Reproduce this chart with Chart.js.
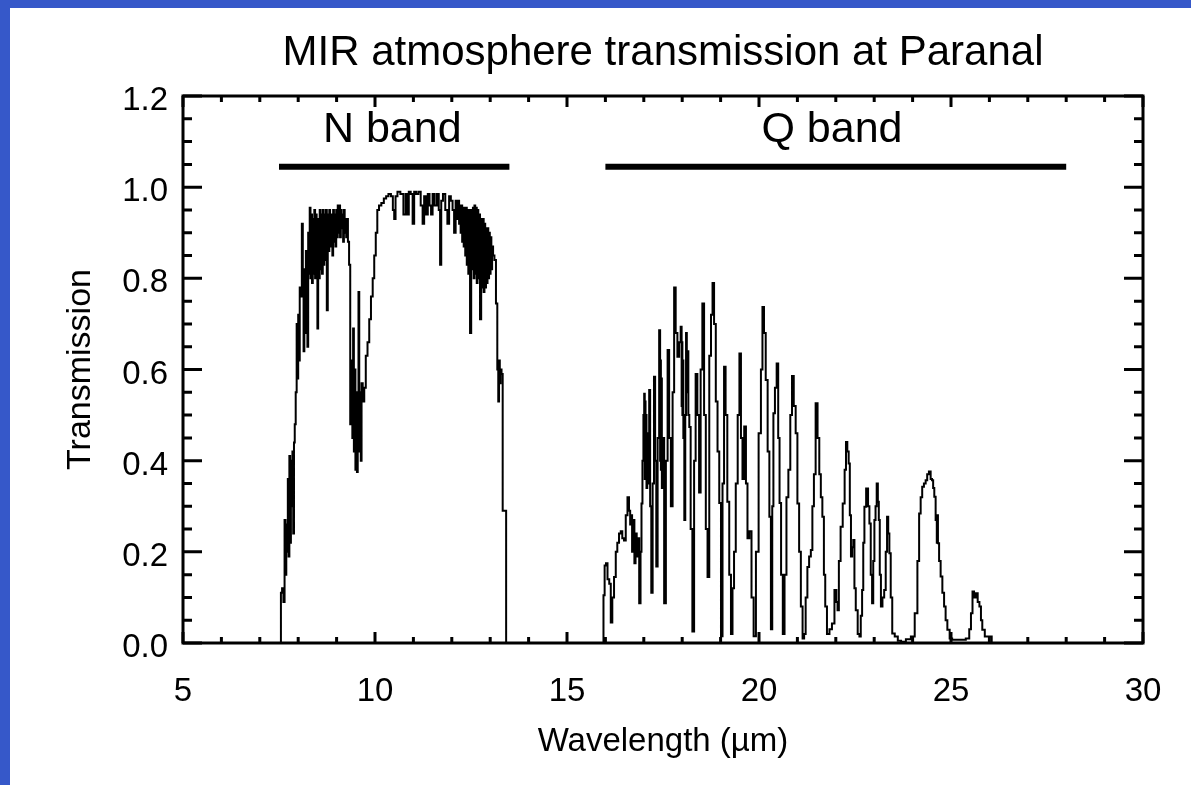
<!DOCTYPE html>
<html>
<head>
<meta charset="utf-8">
<script src="https://cdn.jsdelivr.net/npm/chart.js@4.4.1/dist/chart.umd.min.js"></script>
<style>
  html, body { margin: 0; padding: 0; }
  body { width: 1191px; height: 785px; background: #3658c9; position: relative; overflow: hidden; }
  #wrap { position: absolute; left: 10px; top: 8px; width: 1181px; height: 777px; background: #ffffff; }
  canvas { display: block; }
</style>
</head>
<body>
<div id="wrap"><canvas id="c" width="1181" height="777"></canvas></div>
<script>
// ---- data ----
const chartTitle = "MIR atmosphere transmission at Paranal";
const xTitle = "Wavelength (\u00b5m)";
const yTitle = "Transmission";
const xTicks = [5, 10, 15, 20, 25, 30];
const yTicks = [0.0, 0.2, 0.4, 0.6, 0.8, 1.0, 1.2];

// photometric bands: name, start, end (µm), level of the bar, label position
const bandNames = ["N band", "Q band"];
const bandStart = [7.5, 16.0];
const bandEnd = [13.5, 28.0];
const bandLevel = [1.045, 1.045];
const bandLabelX = [10.45, 21.9];
const bandLabelY = [1.125, 1.125];

// transmission spectrum [wavelength µm, transmission]
const nBand = [
  [7.50,0],[7.54,0],[7.56,0.11],[7.60,0.12],[7.63,0.09],[7.66,0.27],[7.68,0.15],[7.70,0.26],[7.72,0.20],[7.74,0.36],
  [7.76,0.19],[7.78,0.41],[7.80,0.22],[7.82,0.40],[7.84,0.30],[7.86,0.42],[7.88,0.24],[7.90,0.44],[7.92,0.48],[7.95,0.55],
  [7.97,0.70],[7.99,0.58],[8.01,0.72],[8.03,0.62],[8.05,0.78],[8.08,0.76],[8.11,0.92],[8.13,0.80],[8.15,0.64],[8.17,0.82],
  [8.19,0.68],[8.21,0.86],[8.23,0.80],[8.25,0.65],[8.27,0.90],[8.29,0.81],[8.31,0.955],[8.33,0.80],[8.35,0.94],[8.37,0.79],
  [8.39,0.93],[8.41,0.81],[8.43,0.95],[8.45,0.80],[8.47,0.94],[8.49,0.82],[8.51,0.69],[8.53,0.93],[8.55,0.80],[8.57,0.95],
  [8.59,0.82],[8.61,0.94],[8.63,0.81],[8.65,0.95],[8.67,0.83],[8.69,0.94],[8.71,0.84],[8.73,0.95],[8.76,0.73],[8.78,0.94],
  [8.80,0.86],[8.82,0.95],[8.84,0.87],[8.86,0.94],[8.88,0.88],[8.90,0.85],[8.92,0.95],[8.94,0.88],[8.96,0.94],[8.98,0.87],
  [9.00,0.95],[9.02,0.89],[9.04,0.96],[9.06,0.90],[9.08,0.96],[9.10,0.89],[9.12,0.95],[9.14,0.91],[9.16,0.94],[9.18,0.88],
  [9.20,0.95],[9.22,0.90],[9.24,0.93],[9.26,0.89],[9.28,0.93],[9.31,0.88],[9.34,0.83],[9.37,0.48],[9.40,0.62],[9.42,0.45],
  [9.44,0.69],[9.46,0.42],[9.48,0.60],[9.50,0.38],[9.52,0.55],[9.54,0.375],[9.56,0.50],[9.58,0.77],[9.60,0.42],[9.62,0.55],
  [9.64,0.40],[9.66,0.57],[9.70,0.53],[9.74,0.56],[9.78,0.63],[9.83,0.66],[9.87,0.71],[9.92,0.76],[9.96,0.80],[10.00,0.85],
  [10.04,0.90],[10.08,0.95],[10.13,0.96],[10.20,0.965],[10.26,0.975],[10.32,0.98],[10.38,0.985],[10.45,0.98],[10.48,0.95],[10.52,0.93],
  [10.55,0.98],[10.62,0.99],[10.70,0.985],[10.78,0.94],[10.82,0.985],[10.86,0.94],[10.90,0.99],[10.96,0.985],[11.00,0.92],[11.04,0.99],
  [11.10,0.985],[11.16,0.99],[11.22,0.96],[11.26,0.92],[11.30,0.98],[11.35,0.94],[11.40,0.985],[11.44,0.96],[11.48,0.94],[11.52,0.985],
  [11.58,0.96],[11.64,0.985],[11.68,0.95],[11.71,0.83],[11.74,0.97],[11.80,0.985],[11.86,0.95],[11.91,0.92],[11.95,0.98],[12.00,0.97],
  [12.04,0.95],[12.08,0.90],[12.12,0.97],[12.15,0.93],[12.18,0.97],[12.20,0.92],[12.22,0.96],[12.24,0.90],[12.26,0.96],[12.28,0.88],
  [12.30,0.955],[12.32,0.87],[12.34,0.955],[12.36,0.85],[12.38,0.955],[12.40,0.83],[12.42,0.95],[12.44,0.81],[12.46,0.95],[12.49,0.68],
  [12.52,0.95],[12.54,0.82],[12.56,0.955],[12.58,0.80],[12.60,0.96],[12.62,0.81],[12.64,0.955],[12.66,0.79],[12.68,0.95],[12.70,0.80],
  [12.72,0.94],[12.75,0.71],[12.78,0.93],[12.80,0.78],[12.82,0.93],[12.84,0.77],[12.86,0.92],[12.88,0.78],[12.90,0.91],[12.92,0.79],
  [12.94,0.91],[12.96,0.80],[12.98,0.90],[13.00,0.81],[13.02,0.89],[13.04,0.82],[13.06,0.87],[13.09,0.85],[13.13,0.84],[13.17,0.745],
  [13.20,0.60],[13.22,0.53],[13.24,0.62],[13.26,0.57],[13.28,0.60],[13.31,0.59],[13.34,0.29],[13.40,0.29],[13.43,0]
];
const qBand = [
  [15.94,0],[15.96,0.105],[16.00,0.17],[16.03,0.175],[16.08,0.14],[16.12,0.13],[16.16,0.045],[16.20,0.10],[16.25,0.145],[16.29,0.20],
  [16.33,0.22],[16.38,0.24],[16.42,0.245],[16.46,0.23],[16.51,0.225],[16.55,0.28],[16.60,0.32],[16.63,0.29],[16.66,0.26],[16.68,0.28],
  [16.71,0.20],[16.74,0.27],[16.77,0.175],[16.80,0.24],[16.83,0.19],[16.86,0.23],[16.90,0.087],[16.93,0.20],[16.95,0.306],[16.98,0.40],
  [17.00,0.50],[17.02,0.547],[17.03,0.36],[17.04,0.53],[17.05,0.38],[17.06,0.50],[17.08,0.34],[17.10,0.46],[17.13,0.35],[17.15,0.555],
  [17.18,0.30],[17.21,0.11],[17.25,0.35],[17.28,0.584],[17.31,0.40],[17.34,0.168],[17.38,0.45],[17.42,0.686],[17.43,0.40],[17.44,0.62],
  [17.45,0.38],[17.46,0.58],[17.48,0.34],[17.51,0.45],[17.55,0.087],[17.60,0.40],[17.64,0.643],[17.68,0.45],[17.73,0.30],[17.77,0.55],
  [17.81,0.78],[17.85,0.68],[17.90,0.628],[17.94,0.66],[17.98,0.694],[17.99,0.52],[18.00,0.66],[18.01,0.50],[18.02,0.62],[18.04,0.45],
  [18.07,0.27],[18.09,0.50],[18.11,0.68],[18.13,0.55],[18.15,0.64],[18.17,0.50],[18.20,0.474],[18.24,0.25],[18.29,0.025],[18.33,0.40],
  [18.37,0.59],[18.42,0.50],[18.46,0.33],[18.50,0.60],[18.55,0.745],[18.59,0.50],[18.64,0.25],[18.68,0.145],[18.73,0.63],[18.77,0.72],
  [18.81,0.79],[18.85,0.70],[18.90,0.53],[18.94,0.42],[18.99,0.307],[19.03,0.015],[19.07,0.35],[19.11,0.606],[19.15,0.50],[19.20,0.31],
  [19.25,0.15],[19.29,0.02],[19.33,0.12],[19.37,0.20],[19.42,0.35],[19.47,0.50],[19.51,0.635],[19.55,0.45],[19.59,0.36],[19.64,0.475],
  [19.68,0.35],[19.72,0.23],[19.78,0.245],[19.83,0.10],[19.89,0.015],[19.95,0.20],[20.03,0.46],[20.07,0.60],[20.11,0.737],[20.15,0.68],
  [20.20,0.577],[20.25,0.42],[20.29,0.277],[20.33,0.03],[20.36,0.30],[20.39,0.504],[20.44,0.56],[20.48,0.613],[20.52,0.45],[20.55,0.307],
  [20.60,0.15],[20.64,0.02],[20.69,0.15],[20.74,0.32],[20.79,0.38],[20.84,0.50],[20.88,0.586],[20.93,0.52],[20.98,0.46],[21.02,0.306],
  [21.07,0.20],[21.11,0.08],[21.16,0.01],[21.19,0.02],[21.24,0.10],[21.28,0.167],[21.33,0.19],[21.37,0.204],[21.41,0.30],[21.45,0.37],
  [21.50,0.526],[21.55,0.45],[21.59,0.37],[21.63,0.32],[21.67,0.277],[21.71,0.15],[21.74,0.08],[21.80,0.02],[21.87,0.03],[21.93,0.043],
  [22.00,0.116],[22.03,0.09],[22.06,0.072],[22.10,0.18],[22.15,0.255],[22.21,0.306],[22.25,0.38],[22.28,0.441],[22.32,0.42],[22.35,0.394],
  [22.38,0.28],[22.41,0.19],[22.44,0.21],[22.47,0.226],[22.50,0.12],[22.54,0.072],[22.60,0.02],[22.63,0.014],[22.67,0.06],[22.70,0.116],
  [22.73,0.22],[22.76,0.299],[22.82,0.339],[22.86,0.30],[22.89,0.262],[22.93,0.15],[22.96,0.087],[22.99,0.18],[23.02,0.27],[23.05,0.30],
  [23.08,0.35],[23.11,0.31],[23.13,0.27],[23.16,0.15],[23.19,0.08],[23.24,0.10],[23.28,0.116],[23.32,0.20],[23.35,0.277],[23.38,0.24],
  [23.41,0.197],[23.45,0.10],[23.49,0.021],[23.58,0.014],[23.65,0.005],[23.75,0.003],[23.90,0.008],[24.01,0.014],[24.10,0.065],[24.15,0.18],
  [24.19,0.284],[24.23,0.32],[24.27,0.343],[24.32,0.35],[24.36,0.357],[24.40,0.37],[24.45,0.376],[24.49,0.36],[24.52,0.357],[24.55,0.34],
  [24.58,0.321],[24.62,0.27],[24.64,0.22],[24.65,0.28],[24.67,0.219],[24.71,0.18],[24.75,0.146],[24.80,0.11],[24.84,0.080],[24.88,0.05],
  [24.93,0.029],[25.00,0.01],[25.06,0.007],[25.32,0.007],[25.45,0.01],[25.50,0.03],[25.54,0.065],[25.58,0.113],[25.62,0.10],[25.67,0.109],
  [25.72,0.09],[25.76,0.08],[25.80,0.05],[25.83,0.029],[25.93,0.014],[26.02,0.014],[26.10,0]
];

// ---- chart ----
const FONT = "'Liberation Sans', Arial, Helvetica, sans-serif";
const spectrum = [[5, 0]].concat(nBand, qBand, [[30, 0]]).map(p => ({x: p[0], y: p[1]}));

const datasets = [{
  label: 'transmission',
  data: spectrum,
  borderColor: '#000',
  borderWidth: 2,
  pointRadius: 0,
  stepped: 'middle',
  fill: false,
  order: 2
}];
bandNames.forEach((n, i) => {
  datasets.push({
    label: n,
    data: [{x: bandStart[i], y: bandLevel[i]}, {x: bandEnd[i], y: bandLevel[i]}],
    borderColor: '#000',
    borderWidth: 6,
    borderCapStyle: 'butt',
    pointRadius: 0,
    fill: false,
    order: 1
  });
});

const framePlugin = {
  id: 'frame',
  afterDraw(chart) {
    const {ctx, chartArea: a, scales: {x, y}} = chart;
    ctx.save();
    ctx.strokeStyle = '#000';
    ctx.lineWidth = 3;
    ctx.strokeRect(a.left, a.top, a.right - a.left, a.bottom - a.top);
    ctx.beginPath();
    for (let v = xTicks[0]; v <= xTicks[xTicks.length - 1]; v += 1) {
      const px = x.getPixelForValue(v);
      const len = (v % 5 === 0) ? 11 : 6;
      ctx.moveTo(px, a.bottom); ctx.lineTo(px, a.bottom - len);
      ctx.moveTo(px, a.top); ctx.lineTo(px, a.top + len);
    }
    for (let i = 0; i <= 24; i++) {
      const v = i * 0.05;
      const py = y.getPixelForValue(v);
      const len = (i % 4 === 0) ? 19 : 9;
      ctx.moveTo(a.left, py); ctx.lineTo(a.left + len, py);
      ctx.moveTo(a.right, py); ctx.lineTo(a.right - len, py);
    }
    ctx.stroke();
    ctx.fillStyle = '#000';
    ctx.textAlign = 'center';
    ctx.textBaseline = 'middle';
    // chart title centred over the plot area
    ctx.font = '42px ' + FONT;
    ctx.fillText(chartTitle, (a.left + a.right) / 2, 45);
    // band labels
    ctx.font = '43px ' + FONT;
    bandNames.forEach((n, i) => {
      ctx.fillText(n, x.getPixelForValue(bandLabelX[i]), y.getPixelForValue(bandLabelY[i]));
    });
    ctx.restore();
  }
};

new Chart(document.getElementById('c'), {
  type: 'line',
  data: { datasets },
  plugins: [framePlugin],
  options: {
    responsive: false,
    animation: false,
    devicePixelRatio: 1,
    layout: { padding: { left: 0, right: 48, top: 88, bottom: 0 } },
    plugins: {
      legend: { display: false },
      tooltip: { enabled: false },
      title: { display: false }
    },
    scales: {
      x: {
        type: 'linear',
        min: 5, max: 30,
        afterFit(s) { s.height = 142; },
        afterBuildTicks(s) { s.ticks = xTicks.map(v => ({value: v})); },
        grid: { display: false, drawTicks: false },
        border: { display: false },
        ticks: {
          color: '#000',
          padding: 29,
          maxRotation: 0,
          font: { family: FONT, size: 33 },
          callback: v => String(v)
        },
        title: {
          display: true,
          text: xTitle,
          color: '#000',
          font: { family: FONT, size: 33 },
          padding: { top: 0, bottom: 23 }
        }
      },
      y: {
        type: 'linear',
        min: 0, max: 1.2,
        afterFit(s) { s.width = 173; },
        afterBuildTicks(s) { s.ticks = yTicks.map(v => ({value: v})); },
        grid: { display: false, drawTicks: false },
        border: { display: false },
        ticks: {
          color: '#000',
          padding: 15,
          labelOffset: 5,
          font: { family: FONT, size: 33 },
          callback: v => Number(v).toFixed(1)
        },
        title: {
          display: true,
          text: yTitle,
          color: '#000',
          font: { family: FONT, size: 34 },
          padding: { top: 50, bottom: 0 }
        }
      }
    }
  }
});
</script>
</body>
</html>
